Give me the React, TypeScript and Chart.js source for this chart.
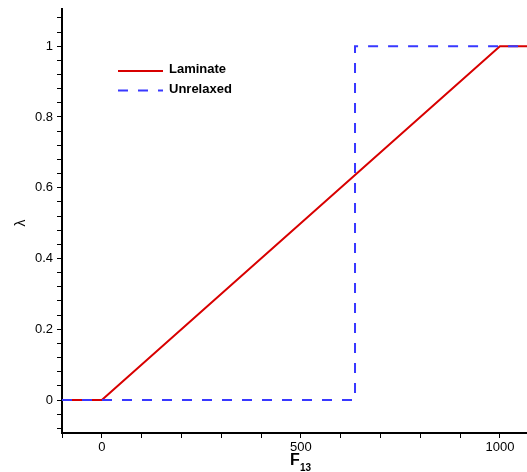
import React, { useEffect, useRef } from "react";
import { Chart, registerables } from "chart.js";

Chart.register(...registerables);

const laminateX = [-100, 0, 1000, 1068];
const laminateY = [0, 0, 1, 1];
const unrelaxedX = [-100, 636, 636, 1068];
const unrelaxedY = [0, 0, 1, 1];

const xTickValues = [-100, 0, 100, 200, 300, 400, 500, 600, 700, 800, 900, 1000];
const xTickLabels = [0, 500, 1000];
const yTickValues = [
  -0.08, -0.04, 0, 0.04, 0.08, 0.12, 0.16, 0.2, 0.24, 0.28, 0.32, 0.36, 0.4, 0.44,
  0.48, 0.52, 0.56, 0.6, 0.64, 0.68, 0.72, 0.76, 0.8, 0.84, 0.88, 0.92, 0.96, 1,
  1.04, 1.08,
];
const yTickLabels = [0, 0.2, 0.4, 0.6, 0.8, 1];

const seriesNames = ["Laminate", "Unrelaxed"];
const RED = "#d80000";
const BLUE = "#3838ff";
const FONT = "'Liberation Sans', Arial, sans-serif";

const overlayPlugin = {
  id: "overlay",
  afterDraw(chart: any) {
    const ctx = chart.ctx;
    ctx.save();
    const rows = [
      { name: seriesNames[0], color: RED, dash: [], lineY: 71, textY: 73 },
      { name: seriesNames[1], color: BLUE, dash: [10, 10], lineY: 90.5, textY: 93 },
    ];
    rows.forEach((r) => {
      ctx.beginPath();
      ctx.setLineDash(r.dash);
      ctx.strokeStyle = r.color;
      ctx.lineWidth = 2;
      ctx.moveTo(118, r.lineY);
      ctx.lineTo(163, r.lineY);
      ctx.stroke();
      ctx.setLineDash([]);
      ctx.fillStyle = "#000";
      ctx.font = `bold 13px ${FONT}`;
      ctx.textAlign = "left";
      ctx.textBaseline = "alphabetic";
      ctx.fillText(r.name, 169, r.textY);
    });
    ctx.fillStyle = "#000";
    ctx.textBaseline = "alphabetic";
    ctx.textAlign = "left";
    ctx.font = `bold 16px ${FONT}`;
    ctx.fillText("F", 290, 465);
    ctx.font = `bold 10px ${FONT}`;
    ctx.fillText("13", 300, 471);
    ctx.translate(21, 223);
    ctx.rotate(-Math.PI / 2);
    ctx.font = `14px ${FONT}`;
    ctx.textAlign = "center";
    ctx.textBaseline = "middle";
    ctx.fillText("λ", 0, 0);
    ctx.restore();
  },
};

export default function App() {
  const ref = useRef<HTMLCanvasElement | null>(null);
  useEffect(() => {
    if (!ref.current) return;
    const chart = new Chart(ref.current, {
      type: "line",
      data: {
        datasets: [
          {
            label: seriesNames[0],
            data: laminateX.map((x, i) => ({ x, y: laminateY[i] })),
            borderColor: RED,
            backgroundColor: RED,
            borderWidth: 2,
            pointRadius: 0,
            tension: 0,
            order: 1,
          },
          {
            label: seriesNames[1],
            data: unrelaxedX.map((x, i) => ({ x, y: unrelaxedY[i] })),
            borderColor: BLUE,
            backgroundColor: BLUE,
            borderWidth: 2,
            borderDash: [10, 10],
            pointRadius: 0,
            tension: 0,
            order: 0,
          },
        ],
      },
      options: {
        responsive: false,
        devicePixelRatio: 1,
        animation: false,
        layout: { padding: { top: 9, right: 0, left: 0, bottom: 0 } },
        plugins: { legend: { display: false }, tooltip: { enabled: false } },
        scales: {
          x: {
            type: "linear",
            position: "bottom",
            min: -100,
            max: 1068,
            afterBuildTicks: (scale: any) => {
              scale.ticks = xTickValues.map((v) => ({ value: v }));
            },
            afterFit: (scale: any) => {
              scale.height = 39;
            },
            grid: {
              drawOnChartArea: false,
              drawTicks: true,
              tickLength: 5,
              color: "#000",
              lineWidth: 1,
            },
            border: { display: true, color: "#000", width: 2 },
            ticks: {
              autoSkip: false,
              maxRotation: 0,
              padding: 2,
              color: "#000",
              font: { family: FONT, size: 13 },
              callback: (v: any) => (xTickLabels.includes(Number(v)) ? String(v) : ""),
            },
          },
          y: {
            type: "linear",
            min: -0.093,
            max: 1.105,
            afterBuildTicks: (scale: any) => {
              scale.ticks = yTickValues.map((v) => ({ value: v }));
            },
            afterFit: (scale: any) => {
              scale.width = 62;
              scale.paddingTop = 0;
              scale.paddingBottom = 0;
            },
            grid: {
              drawOnChartArea: false,
              drawTicks: true,
              tickLength: 5,
              color: "#000",
              lineWidth: 1,
            },
            border: { display: true, color: "#000", width: 2 },
            ticks: {
              autoSkip: false,
              padding: 4,
              color: "#000",
              font: { family: FONT, size: 13 },
              callback: (v: any) =>
                yTickLabels.some((t) => Math.abs(t - Number(v)) < 1e-9) ? String(v) : "",
            },
          },
        },
      },
      plugins: [overlayPlugin],
    });
    return () => chart.destroy();
  }, []);
  return (
    <div style={{ position: "fixed", left: 0, top: 0, width: 527, height: 472, background: "#fff" }}>
      <canvas ref={ref} width={527} height={472} style={{ display: "block" }} />
    </div>
  );
}
